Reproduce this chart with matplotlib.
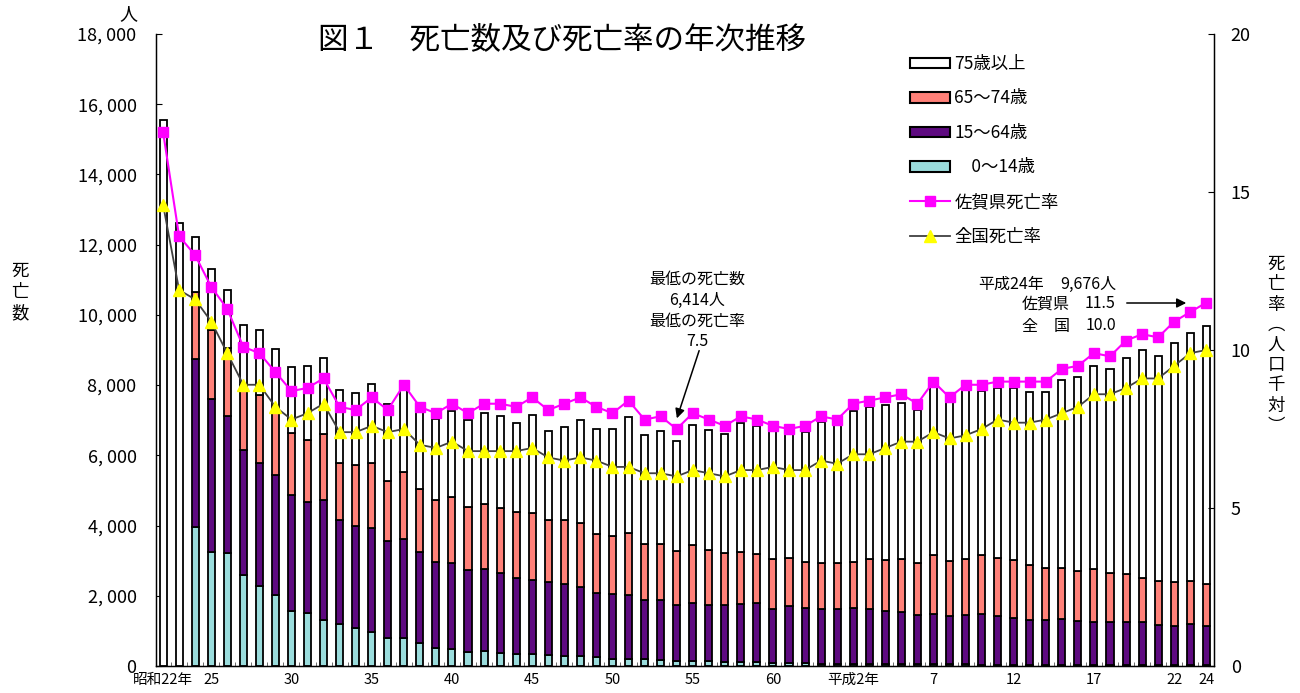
import matplotlib
matplotlib.use("Agg")
import matplotlib.pyplot as plt
from matplotlib.patches import Patch
from matplotlib.lines import Line2D
import numpy as np

plt.rcParams['font.family'] = ['Noto Sans CJK JP', 'DejaVu Sans']

# ---------------- data ----------------
# 昭和22年 (index 0) ... 平成24年 (index 65)
tick_pos = [0, 3, 8, 13, 18, 23, 28, 33, 38, 43, 48, 53, 58, 63, 65]
tick_labels = ['昭和22年', '25', '30', '35', '40', '45', '50', '55', '60',
               '平成2年', '7', '12', '17', '22', '24']

total = [15540, 12630, 12230, 11320, 10720, 9720, 9580, 9030, 8510, 8550,
         8760, 7870, 7770, 8040, 7450, 7950, 7230, 7030, 7260, 7000,
         7200, 7120, 6930, 7140, 6680, 6820, 7010, 6760, 6740, 7090,
         6590, 6680, 6414, 6870, 6720, 6610, 6930, 6840, 6720, 6650,
         6665, 6950, 6864, 7263, 7377, 7424, 7500, 7291, 7956, 7519,
         7852, 7833, 7927, 7909, 7814, 7814, 8146, 8222, 8545, 8450,
         8782, 9000, 8829, 9209, 9485, 9676]

age0_14 = [0, 0, 3950, 3260, 3230, 2600, 2280, 2030, 1560, 1510,
           1320, 1190, 1070, 980, 810, 810, 650, 505, 490, 410,
           430, 360, 330, 330, 300, 290, 285, 255, 210, 190,
           190, 170, 140, 140, 130, 115, 105, 105, 85, 95,
           75, 70, 70, 65, 60, 55, 55, 50, 50, 45,
           45, 40, 40, 35, 30, 30, 30, 30, 25, 25,
           25, 25, 25, 25, 25, 20]

age15_64 = [0, 0, 4790, 4340, 3880, 3560, 3510, 3420, 3300, 3170,
            3420, 2970, 2930, 2940, 2740, 2800, 2610, 2465, 2450, 2320,
            2340, 2300, 2190, 2110, 2100, 2040, 1975, 1835, 1830, 1830,
            1690, 1700, 1605, 1665, 1605, 1615, 1670, 1700, 1550, 1615,
            1585, 1565, 1565, 1575, 1575, 1510, 1485, 1395, 1440, 1380,
            1410, 1430, 1385, 1340, 1280, 1280, 1300, 1250, 1240, 1240,
            1240, 1230, 1135, 1115, 1180, 1120]

age65_74 = [0, 0, 1910, 1980, 1960, 1840, 1920, 1760, 1790, 1760,
            1860, 1630, 1720, 1850, 1710, 1920, 1790, 1745, 1880, 1800,
            1850, 1840, 1870, 1930, 1760, 1820, 1800, 1660, 1660, 1760,
            1600, 1610, 1530, 1630, 1580, 1480, 1480, 1375, 1420, 1375,
            1305, 1310, 1290, 1330, 1405, 1445, 1500, 1480, 1660, 1565,
            1605, 1680, 1660, 1635, 1555, 1480, 1470, 1415, 1490, 1375,
            1350, 1265, 1265, 1255, 1205, 1190]

saga_rate = [16.9, 13.6, 13.0, 12.0, 11.3, 10.1, 9.9, 9.3, 8.7, 8.8,
             9.1, 8.2, 8.1, 8.5, 8.1, 8.9, 8.2, 8.0, 8.3, 8.0,
             8.3, 8.3, 8.2, 8.5, 8.1, 8.3, 8.5, 8.2, 8.0, 8.4,
             7.8, 7.9, 7.5, 8.0, 7.8, 7.6, 7.9, 7.8, 7.6, 7.5,
             7.6, 7.9, 7.8, 8.3, 8.4, 8.5, 8.6, 8.3, 9.0, 8.5,
             8.9, 8.9, 9.0, 9.0, 9.0, 9.0, 9.4, 9.5, 9.9, 9.8,
             10.3, 10.5, 10.4, 10.9, 11.2, 11.5]

japan_rate = [14.6, 11.9, 11.6, 10.9, 9.9, 8.9, 8.9, 8.2, 7.8, 8.0,
              8.3, 7.4, 7.4, 7.6, 7.4, 7.5, 7.0, 6.9, 7.1, 6.8,
              6.8, 6.8, 6.8, 6.9, 6.6, 6.5, 6.6, 6.5, 6.3, 6.3,
              6.1, 6.1, 6.0, 6.2, 6.1, 6.0, 6.2, 6.2, 6.3, 6.2,
              6.2, 6.5, 6.4, 6.7, 6.7, 6.9, 7.1, 7.1, 7.4, 7.2,
              7.3, 7.5, 7.8, 7.7, 7.7, 7.8, 8.0, 8.2, 8.6, 8.6,
              8.8, 9.1, 9.1, 9.5, 9.9, 10.0]

legend_labels = ['75歳以上', '65～74歳', '15～64歳', '　0～14歳',
                 '佐賀県死亡率', '全国死亡率']

# ---------------- style ----------------
C_CYAN = '#9ADCDC'
C_PURPLE = '#5E0A80'
C_SALMON = '#FF8078'
C_WHITE = '#FFFFFF'
C_MAG = '#FF00FF'
C_YEL = '#FFFF00'
C_GRAY = '#404040'

W, H = 1300, 693
fig = plt.figure(figsize=(13, 6.93), dpi=100)
fig.patch.set_facecolor('white')


def fx(x):
    return x / W


def fy(y):
    return 1 - y / H


ax = fig.add_axes([fx(156), fy(666), fx(1214) - fx(156), fy(34) - fy(666)])
ax2 = ax.twinx()

x = np.arange(len(total))
a0 = np.array(age0_14, float)
a1 = np.array(age15_64, float)
a2 = np.array(age65_74, float)
tot = np.array(total, float)
a3 = tot - a0 - a1 - a2

bw = 0.44
elw = 1.3
b0 = np.zeros(len(x))
for vals, col in [(a0, C_CYAN), (a1, C_PURPLE), (a2, C_SALMON), (a3, C_WHITE)]:
    ax.bar(x, vals, bw, bottom=b0, color=col, edgecolor='black', linewidth=elw, zorder=2)
    b0 = b0 + vals

ax.set_xlim(-0.44, 65.48)
ax.set_ylim(0, 18000)
ax.set_yticks(np.arange(0, 18001, 2000))
ax.set_yticklabels(['0'] + [f"{v:,}".replace(',', ', ') for v in range(2000, 18001, 2000)])
ax.tick_params(axis='y', direction='in', length=4, pad=14, labelsize=13, colors='black')
ax.set_xticks(tick_pos)
ax.set_xticklabels(tick_labels)
ax.tick_params(axis='x', length=0, pad=5, labelsize=10.5)
ax.set_xticks(np.arange(0.5, 65, 1.0), minor=True)
ax.tick_params(axis='x', which='minor', direction='in', length=3, color='#555555')
ax.spines['top'].set_visible(False)
for s in ['left', 'bottom', 'right']:
    ax.spines[s].set_linewidth(1.0)

ax2.plot(x, japan_rate, color=C_GRAY, lw=1.3, marker='^', ms=8,
         mfc=C_YEL, mec=C_YEL, zorder=3)
ax2.plot(x, saga_rate, color=C_MAG, lw=1.5, marker='s', ms=7.5,
         mfc=C_MAG, mec=C_MAG, zorder=4)
ax2.set_ylim(0, 20)
ax2.set_yticks([0, 5, 10, 15, 20])
ax2.tick_params(axis='y', direction='in', length=4, pad=12, labelsize=13)
ax2.spines['top'].set_visible(False)

# legend
handles = [Patch(facecolor=C_WHITE, edgecolor='black', linewidth=1.5),
           Patch(facecolor=C_SALMON, edgecolor='black', linewidth=1.5),
           Patch(facecolor=C_PURPLE, edgecolor='black', linewidth=1.5),
           Patch(facecolor=C_CYAN, edgecolor='black', linewidth=1.5),
           Line2D([], [], color=C_MAG, lw=1.5, marker='s', ms=7.5, mfc=C_MAG, mec=C_MAG),
           Line2D([], [], color=C_GRAY, lw=1.3, marker='^', ms=8, mfc=C_YEL, mec=C_YEL)]
leg = ax2.legend(handles, legend_labels, loc='upper left',
                 bbox_to_anchor=(fx(910), fy(55)), bbox_transform=fig.transFigure,
                 frameon=False, fontsize=12.5, handlelength=2.3, handleheight=0.55,
                 handletextpad=0.25, labelspacing=0.95, borderpad=0, borderaxespad=0)

# title and labels
fig.text(fx(318), fy(40), '図１　死亡数及び死亡率の年次推移', fontsize=22,
         ha='left', va='center')
fig.text(fx(128), fy(14), '人', fontsize=13, ha='center', va='center')
fig.text(fx(20), fy(292), '死\n亡\n数', fontsize=12.5, ha='center', va='center',
         linespacing=1.25)
fig.text(fx(1276), fy(345), '死\n亡\n率\n︵\n人\n口\n千\n対\n︶', fontsize=12.5,
         ha='center', va='center', linespacing=1.16)

# annotation: minimum
for ty, s in [(279, '最低の死亡数'), (300, '6,414人'), (321, '最低の死亡率'), (342, '7.5')]:
    fig.text(fx(697), fy(ty), s, fontsize=11.5, ha='center', va='center')
fig.add_artist(matplotlib.patches.FancyArrowPatch(
    (fx(700), fy(348)), (fx(676), fy(421)), transform=fig.transFigure,
    arrowstyle='-|>', mutation_scale=14, color='black', lw=1.1))

# annotation: latest year
fig.text(fx(978), fy(284), '平成24年', fontsize=11.5, ha='left', va='center')
fig.text(fx(1116), fy(284), '9,676人', fontsize=11.5, ha='right', va='center')
fig.text(fx(1022), fy(304), '佐賀県', fontsize=11.5, ha='left', va='center')
fig.text(fx(1116), fy(304), '11.5', fontsize=11.5, ha='right', va='center')
fig.text(fx(1022), fy(326), '全　国', fontsize=11.5, ha='left', va='center')
fig.text(fx(1116), fy(326), '10.0', fontsize=11.5, ha='right', va='center')
fig.add_artist(matplotlib.patches.FancyArrowPatch(
    (fx(1124), fy(303)), (fx(1189), fy(303)), transform=fig.transFigure,
    arrowstyle='-|>', mutation_scale=14, color='black', lw=1.1))

fig.savefig('out.png', dpi=100, facecolor='white')
